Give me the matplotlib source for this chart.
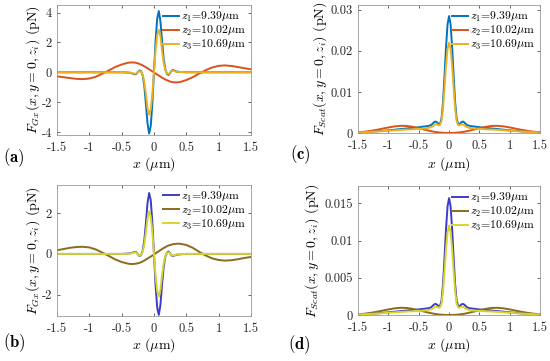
import numpy as np
import matplotlib
matplotlib.use("Agg")
from matplotlib import pyplot as plt
from matplotlib.ticker import FuncFormatter

plt.rcParams['font.family'] = 'serif'
plt.rcParams['font.serif'] = ['cmr10', 'DejaVu Serif']
plt.rcParams['mathtext.fontset'] = 'cm'
plt.rcParams['axes.unicode_minus'] = False

# x positions (um), finer near the centre
x = [-1.5, -1.4, -1.3, -1.2, -1.1, -1.0, -0.9, -0.8, -0.7, -0.6, -0.5, -0.4, -0.35,
     -0.3, -0.275, -0.25, -0.225, -0.2, -0.175, -0.15, -0.125, -0.1, -0.075, -0.05, -0.025,
     0.0,
     0.025, 0.05, 0.075, 0.1, 0.125, 0.15, 0.175, 0.2, 0.225, 0.25, 0.275, 0.3,
     0.35, 0.4, 0.5, 0.6, 0.7, 0.8, 0.9, 1.0, 1.1, 1.2, 1.3, 1.4, 1.5]

labels = [r'$z_1$=9.39$\mu$m', r'$z_2$=10.02$\mu$m', r'$z_3$=10.69$\mu$m']

# (a) gradient force
ga1 = [0, 0, 0, 0, 0, 0, 0, 0, 0, 0, 0, -0.02, -0.05,
       -0.14, -0.12, 0.02, 0.12, 0.08, -0.2, -0.9, -2.1, -3.4, -4.1, -3.6, -2.1,
       0.0,
       2.1, 3.6, 4.1, 3.4, 2.1, 0.9, 0.2, -0.1, -0.18, -0.05, 0.12, 0.14,
       0.05, 0.02, 0, 0, 0, 0, 0, 0, 0, 0, 0, 0, 0]
ga2 = [-0.27, -0.33, -0.39, -0.44, -0.46, -0.42, -0.3, -0.1, 0.12, 0.35, 0.52, 0.64, 0.66,
       0.65, 0.63, 0.6, 0.56, 0.51, 0.46, 0.4, 0.34, 0.27, 0.2, 0.13, 0.06,
       -0.01,
       -0.08, -0.15, -0.22, -0.29, -0.36, -0.42, -0.48, -0.53, -0.58, -0.62, -0.65, -0.67,
       -0.68, -0.66, -0.52, -0.33, -0.08, 0.14, 0.32, 0.43, 0.46, 0.42, 0.35, 0.27, 0.2]
ga3 = [0, 0, 0, 0, 0, 0, 0, 0, 0, 0, 0, -0.02, -0.04,
       -0.1, -0.09, 0.01, 0.08, 0.05, -0.15, -0.65, -1.45, -2.4, -2.85, -2.5, -1.45,
       0.0,
       1.45, 2.5, 2.85, 2.4, 1.45, 0.65, 0.15, -0.06, -0.12, -0.03, 0.08, 0.1,
       0.04, 0.02, 0, 0, 0, 0, 0, 0, 0, 0, 0, 0, 0]

# (b) gradient force
gb1 = [0, 0, 0, 0, 0, 0, 0, 0, 0, 0, 0, 0.02, 0.04,
       0.1, 0.09, -0.02, -0.1, -0.06, 0.15, 0.65, 1.5, 2.5, 3.0, 2.65, 1.55,
       0.0,
       -1.55, -2.65, -3.0, -2.5, -1.5, -0.65, -0.15, 0.06, 0.12, 0.03, -0.09, -0.1,
       -0.04, -0.02, 0, 0, 0, 0, 0, 0, 0, 0, 0, 0, 0]
gb2 = [0.18, 0.24, 0.3, 0.34, 0.35, 0.32, 0.22, 0.07, -0.1, -0.27, -0.4, -0.48, -0.5,
       -0.49, -0.48, -0.46, -0.44, -0.41, -0.37, -0.33, -0.28, -0.23, -0.18, -0.13, -0.08,
       -0.03,
       0.03, 0.08, 0.13, 0.19, 0.24, 0.29, 0.33, 0.38, 0.41, 0.44, 0.46, 0.48,
       0.5, 0.5, 0.44, 0.3, 0.1, -0.08, -0.22, -0.3, -0.33, -0.31, -0.26, -0.2, -0.15]
gb3 = [0, 0, 0, 0, 0, 0, 0, 0, 0, 0, 0, 0.01, 0.03,
       0.08, 0.07, -0.02, -0.08, -0.05, 0.1, 0.46, 1.05, 1.75, 2.1, 1.85, 1.08,
       0.0,
       -1.08, -1.85, -2.1, -1.75, -1.05, -0.46, -0.1, 0.05, 0.08, 0.02, -0.07, -0.08,
       -0.03, -0.01, 0, 0, 0, 0, 0, 0, 0, 0, 0, 0, 0]

# (c) scattering force
sc1 = [0.00015, 0.0002, 0.0003, 0.0004, 0.0005, 0.00065, 0.0008, 0.00095, 0.0011, 0.00125, 0.0014, 0.0016, 0.0017,
       0.0019, 0.0022, 0.0026, 0.0028, 0.0026, 0.0022, 0.0022, 0.0035, 0.0075, 0.014, 0.021, 0.0265,
       0.0285,
       0.0265, 0.021, 0.014, 0.0075, 0.0035, 0.0022, 0.0022, 0.0026, 0.0028, 0.0026, 0.0022, 0.0019,
       0.0017, 0.0016, 0.0014, 0.00125, 0.0011, 0.00095, 0.0008, 0.00065, 0.0005, 0.0004, 0.0003, 0.0002, 0.00015]
sc2 = [0.00018, 0.0003, 0.0005, 0.00075, 0.00105, 0.00135, 0.0016, 0.00175, 0.00172, 0.0015, 0.00115, 0.0008, 0.00062,
       0.00045, 0.00038, 0.00031, 0.00025, 0.0002, 0.00015, 0.00011, 0.00008, 0.00005, 0.000028, 0.000012, 0.000003,
       0.0,
       0.000003, 0.000012, 0.000028, 0.00005, 0.00008, 0.00011, 0.00015, 0.0002, 0.00025, 0.00031, 0.00038, 0.00045,
       0.00062, 0.0008, 0.00115, 0.0015, 0.00172, 0.00175, 0.0016, 0.00135, 0.00105, 0.00075, 0.0005, 0.0003, 0.00018]
sc3 = [0.00015, 0.0002, 0.00027, 0.00035, 0.00045, 0.00055, 0.00065, 0.00075, 0.00085, 0.0009, 0.001, 0.0011, 0.0012,
       0.0014, 0.0016, 0.0019, 0.0021, 0.0021, 0.0019, 0.0019, 0.0029, 0.006, 0.011, 0.0165, 0.0205,
       0.022,
       0.0205, 0.0165, 0.011, 0.006, 0.0029, 0.0019, 0.0019, 0.0021, 0.0021, 0.0019, 0.0016, 0.0014,
       0.0012, 0.0011, 0.001, 0.0009, 0.00085, 0.00075, 0.00065, 0.00055, 0.00045, 0.00035, 0.00027, 0.0002, 0.00015]

# (d) scattering force
sd1 = [0.00008, 0.00011, 0.00016, 0.00022, 0.00028, 0.00036, 0.00044, 0.00052, 0.0006, 0.00068, 0.00075, 0.00085, 0.0009,
       0.001, 0.0012, 0.0014, 0.0015, 0.0014, 0.0012, 0.0012, 0.0019, 0.0041, 0.0077, 0.0116, 0.0146,
       0.0157,
       0.0146, 0.0116, 0.0077, 0.0041, 0.0019, 0.0012, 0.0012, 0.0014, 0.0015, 0.0014, 0.0012, 0.001,
       0.0009, 0.00085, 0.00075, 0.00068, 0.0006, 0.00052, 0.00044, 0.00036, 0.00028, 0.00022, 0.00016, 0.00011, 0.00008]
sd2 = [0.0001, 0.00017, 0.00028, 0.00042, 0.00058, 0.00075, 0.00089, 0.00097, 0.00095, 0.00082, 0.00063, 0.00044, 0.00034,
       0.00025, 0.00021, 0.00017, 0.00014, 0.00011, 0.00008, 0.00006, 0.000043, 0.000027, 0.000015, 0.000007, 0.000002,
       0.0,
       0.000002, 0.000007, 0.000015, 0.000027, 0.000043, 0.00006, 0.00008, 0.00011, 0.00014, 0.00017, 0.00021, 0.00025,
       0.00034, 0.00044, 0.00063, 0.00082, 0.00095, 0.00097, 0.00089, 0.00075, 0.00058, 0.00042, 0.00028, 0.00017, 0.0001]
sd3 = [0.00008, 0.0001, 0.00014, 0.00019, 0.00024, 0.0003, 0.00036, 0.00041, 0.00047, 0.0005, 0.00055, 0.0006, 0.00065,
       0.00075, 0.00085, 0.001, 0.0011, 0.0011, 0.001, 0.001, 0.0015, 0.0032, 0.0059, 0.0089, 0.0111,
       0.012,
       0.0111, 0.0089, 0.0059, 0.0032, 0.0015, 0.001, 0.001, 0.0011, 0.0011, 0.001, 0.00085, 0.00075,
       0.00065, 0.0006, 0.00055, 0.0005, 0.00047, 0.00041, 0.00036, 0.0003, 0.00024, 0.00019, 0.00014, 0.0001, 0.00008]

cols_ac = ['#0072BD', '#D95319', '#EDB120']
cols_bd = ['#3c3cc8', '#8c6a1e', '#d6d62a']

W, H = 550, 361
fig = plt.figure(figsize=(5.5, 3.61), dpi=100)

panels = [
    # rect, series, colours, ylim, yticks, ylabel, ylabel x px, xlabel y px, tag, tag pos px
    ([0.1036, 0.626, 0.3527, 0.36], (ga1, ga2, ga3), cols_ac, (-4.2, 4.5), [-4, -2, 0, 2, 4],
     r'$F_{Gx}(x,y=0,z_i)$ (pN)', 33, 164, 'a', (3, 158)),
    ([0.1036, 0.125, 0.3527, 0.363], (gb1, gb2, gb3), cols_bd, (-3.05, 3.4), [-2, 0, 2],
     r'$F_{Gx}(x,y=0,z_i)$ (pN)', 33, 345, 'b', (3, 343)),
    ([0.651, 0.6316, 0.331, 0.3546], (sc1, sc2, sc3), cols_ac, (0, 0.0312), [0, 0.01, 0.02, 0.03],
     r'$F_{Scat}(x,y=0,z_i)$ (pN)', 320, 164, 'c', (290, 155)),
    ([0.651, 0.1274, 0.331, 0.357], (sd1, sd2, sd3), cols_bd, (0, 0.0173), [0, 0.005, 0.01, 0.015],
     r'$F_{Scat}(x,y=0,z_i)$ (pN)', 312, 345, 'd', (288, 345)),
]

fmt = FuncFormatter(lambda v, p: '%g' % v)

for rect, series, cols, ylim, yt, ylab, ylx, xly, tag, tpos in panels:
    ax = fig.add_axes(rect)
    for s, c, lab in zip(series, cols, labels):
        ax.plot(x, s, color=c, lw=1.4, label=lab)
    ax.set_xlim(-1.5, 1.5)
    ax.set_ylim(*ylim)
    ax.set_xticks([-1.5, -1, -0.5, 0, 0.5, 1, 1.5])
    ax.set_yticks(yt)
    ax.xaxis.set_major_formatter(fmt)
    ax.yaxis.set_major_formatter(fmt)
    ax.tick_params(direction='in', length=2.5, width=0.5, labelsize=9,
                   top=True, right=True, colors='#262626')
    ax.tick_params(axis='x', pad=4.7)
    ax.tick_params(axis='y', pad=3.5)
    for sp in ax.spines.values():
        sp.set_color('#9a9a9a')
        sp.set_linewidth(0.6)
    ax.legend(loc='upper right', frameon=False, fontsize=8.5, handlelength=1.35,
              handletextpad=0.2, labelspacing=0.0, borderaxespad=0.0)

    xc = rect[0] + rect[2] / 2
    yc = rect[1] + rect[3] / 2
    fig.text(xc, 1 - xly / H, r'$x$ ($\mu$m)', fontsize=10, ha='center', va='center')
    fig.text(ylx / W, yc, ylab, fontsize=10, rotation=90, ha='center', va='center')
    fig.text(tpos[0] / W, 1 - tpos[1] / H, r'$(\mathbf{' + tag + '})$', fontsize=12,
             va='center')

fig.savefig('out.png', dpi=100)
